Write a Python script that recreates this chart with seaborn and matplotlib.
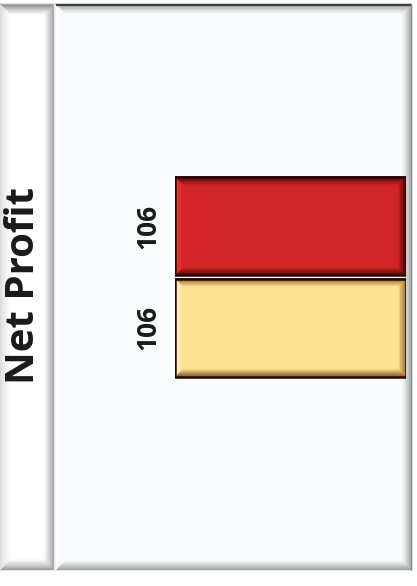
import numpy as np
import pandas as pd
import matplotlib
matplotlib.use("Agg")
import matplotlib.pyplot as plt
from matplotlib.patches import Polygon
from matplotlib.colors import to_rgb
import seaborn as sns

# Data
metric = "Net Profit"
series = ["Current", "Previous"]
values = [106, 106]
bar_colors = ["#d22626", "#fce392"]

df = pd.DataFrame({"series": series, "value": values})

sns.set_theme(style="white")
plt.rcParams["font.family"] = ["Open Sans", "DejaVu Sans"]

W, H, DPI = 417, 586, 100
fig = plt.figure(figsize=(W / DPI, H / DPI), dpi=DPI)
fig.patch.set_facecolor("white")

# Background layer in pixel coordinates for the framed panels
bg = fig.add_axes([0, 0, 1, 1], zorder=0)
bg.set_xlim(0, W)
bg.set_ylim(H, 0)
bg.axis("off")


def mix(c1, c2, t):
    a, b = np.array(to_rgb(c1)), np.array(to_rgb(c2))
    return tuple(a + (b - a) * t)


def bevel_box(ax, x0, y0, x1, y1, width, face, edges, steps=12, power=0.8, z=1):
    """Rectangle with a gradient bevelled rim; edges holds the outer colour
    of the 'top' (y0 side), 'left', 'bottom' and 'right' rims."""
    ax.add_patch(Polygon([(x0, y0), (x1, y0), (x1, y1), (x0, y1)],
                         closed=True, facecolor=face, edgecolor="none", zorder=z))
    wx, wy = width if isinstance(width, tuple) else (width, width)
    sy = 1 if y1 > y0 else -1
    for i in range(steps):
        t0, t1 = i / steps, (i + 1) / steps
        ax0, ax1 = x0 + wx * t0, x1 - wx * t0
        ay0, ay1 = y0 + sy * wy * t0, y1 - sy * wy * t0
        bx0, bx1 = x0 + wx * t1, x1 - wx * t1
        by0, by1 = y0 + sy * wy * t1, y1 - sy * wy * t1
        tm = (t0 + t1) / 2
        polys = {
            "top": [(ax0, ay0), (ax1, ay0), (bx1, by0), (bx0, by0)],
            "bottom": [(ax0, ay1), (ax1, ay1), (bx1, by1), (bx0, by1)],
            "left": [(ax0, ay0), (bx0, by0), (bx0, by1), (ax0, ay1)],
            "right": [(ax1, ay0), (bx1, by0), (bx1, by1), (ax1, ay1)],
        }
        for side, pts in polys.items():
            c = mix(edges[side], face, tm ** power)
            ax.add_patch(Polygon(pts, closed=True, facecolor=c,
                                 edgecolor=c, linewidth=0.3, zorder=z + 0.1))


# Left title panel
bevel_box(bg, 0, 4, 55, 570, 11, "#ffffff",
          {"top": "#6e6e74", "left": "#d8d8dc", "bottom": "#8c8c92", "right": "#7e7e86"}, z=1)
bg.plot([0, 55], [4, 4], color="#b0b0b4", lw=0.8, zorder=2)
bg.plot([54.5, 54.5], [4, 570], color="#e8e8ea", lw=1.0, zorder=2)

# Main chart panel
bevel_box(bg, 55.5, 4, 412, 570, 10, "#f8fcfc",
          {"top": "#7e8a88", "left": "#ffffff", "bottom": "#8a9490", "right": "#86908e"}, z=1)
bg.plot([56, 412], [4.5, 4.5], color="#3c3c3c", lw=1.6, zorder=2, solid_capstyle="butt")
bg.plot([411.5, 411.5], [4, 570], color="#8a9492", lw=1.0, zorder=2)

bg.text(24, 286, metric, rotation=90, ha="center", va="center",
        fontsize=29, fontweight="bold", color="#1a1a1a", zorder=3)

# Bar axes
ax_l, ax_r = 175, 406
ax_t, ax_b = 175.5, 378.5
ax = fig.add_axes([ax_l / W, 1 - ax_b / H, (ax_r - ax_l) / W, (ax_b - ax_t) / H], zorder=2)
ax.patch.set_alpha(0)

sns.barplot(data=df, y="series", x="value", hue="series", palette=bar_colors,
            orient="h", width=0.965, legend=False, ax=ax,
            edgecolor="#2a0404", linewidth=1.2, saturation=1)

ax.set_xlim(0, max(values))
ax.set_ylim(len(series) - 0.5, -0.5)
ax.axis("off")

# Bevel on each bar, sized in pixels and converted to data units
px_x = (ax_r - ax_l) / max(values)
px_y = (ax_b - ax_t) / len(series)
shade = {
    "#d22626": {"top": "#5a0808", "left": "#f23a3a", "bottom": "#5a0606", "right": "#4a0404"},
    "#fce392": {"top": "#9a6a30", "left": "#fff4cc", "bottom": "#8a5a28", "right": "#a07436"},
}
for patch, col in zip(ax.patches, bar_colors):
    x0, y0 = patch.get_x(), patch.get_y()
    x1, y1 = x0 + patch.get_width(), y0 + patch.get_height()
    bevel_box(ax, x0, y0, x1, y1, (8 / px_x, 8 / px_y), col, shade[col],
              steps=14, power=1.3, z=3)
    ax.add_patch(Polygon([(x0, y0), (x1, y0), (x1, y1), (x0, y1)], closed=True,
                         facecolor="none", edgecolor="#2a0404", linewidth=1.8, zorder=4))

for i, v in enumerate(values):
    ax.annotate(f"{v}", xy=(0, i), xytext=(-27 * 72 / DPI, 0),
                textcoords="offset points", rotation=90, ha="center", va="center",
                fontsize=19, fontweight="bold", color="#1a1a1a", annotation_clip=False)

fig.savefig("out.png", dpi=DPI)
